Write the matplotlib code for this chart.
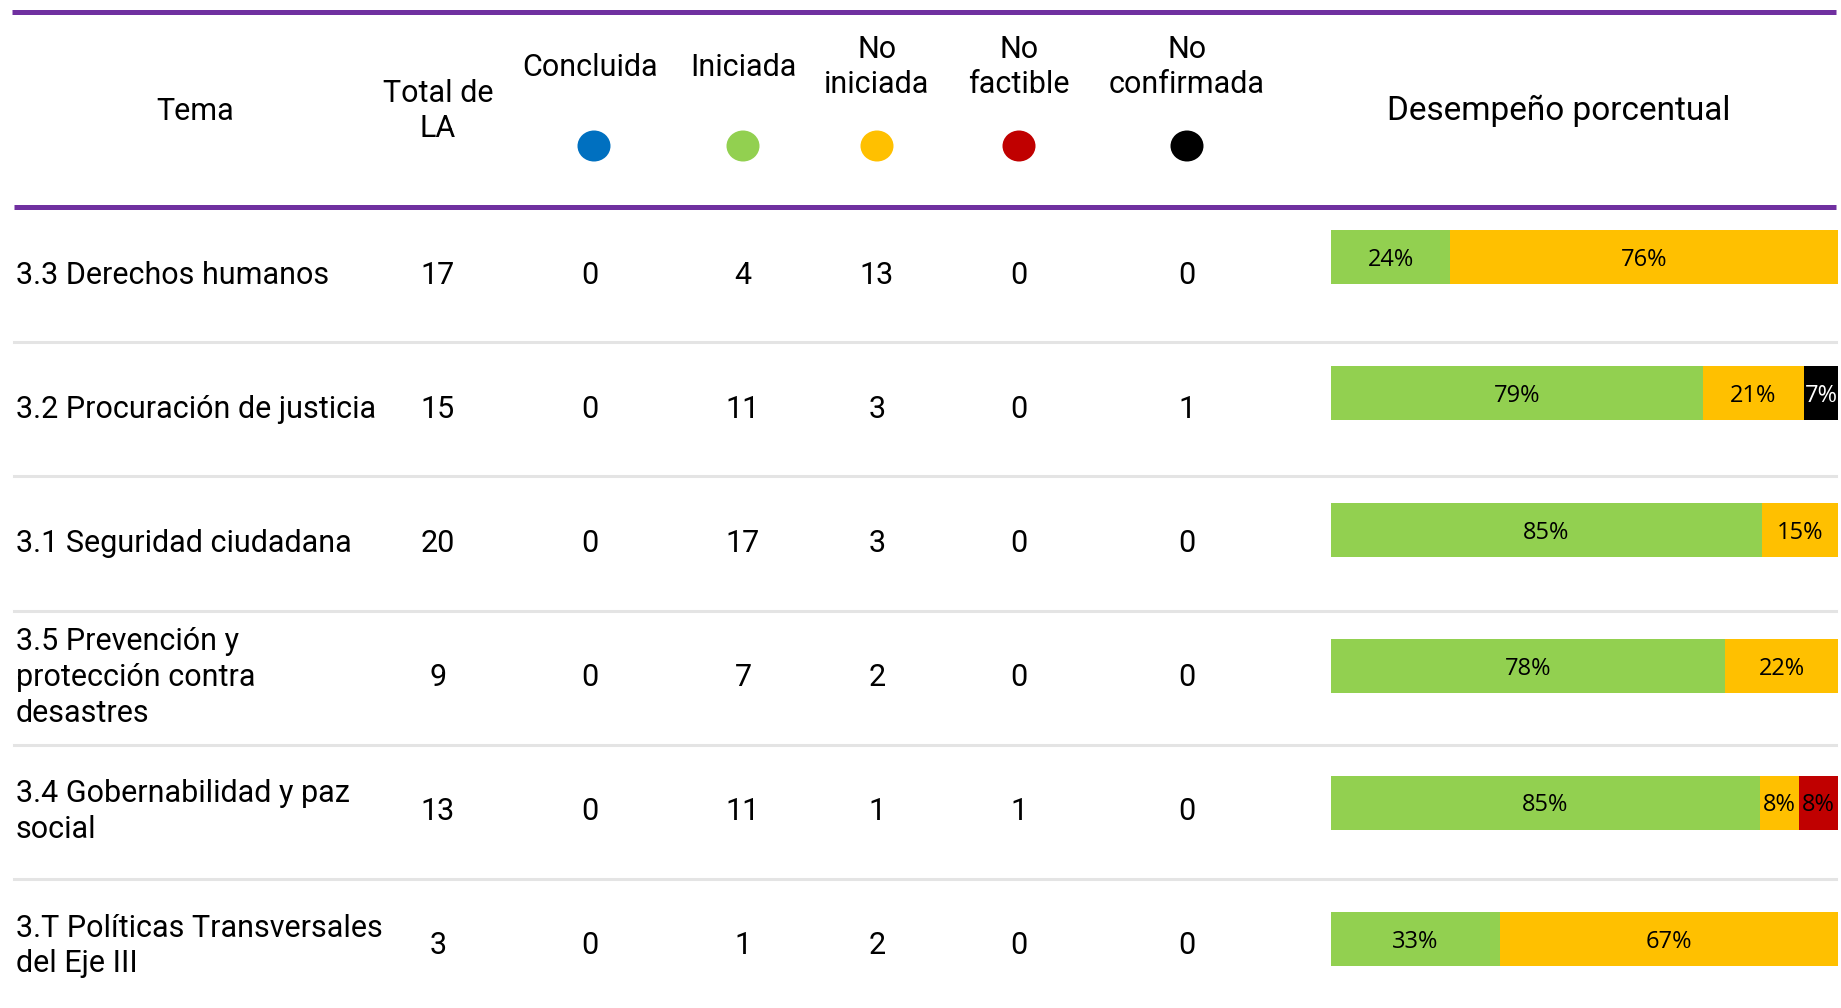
import matplotlib
matplotlib.use('Agg')
import matplotlib.pyplot as plt
from matplotlib.patches import Ellipse
import numpy as np

PURPLE = '#7030A0'
GRID = '#E4E4E4'
BLUE = '#0070C0'
GREEN = '#92D050'
YELLOW = '#FFC000'
RED = '#C00000'
BLACK = '#000000'

# data
temas = ['3.3 Derechos humanos', '3.2 Procuración de justicia', '3.1 Seguridad ciudadana',
         '3.5 Prevención y\nprotección contra\ndesastres', '3.4 Gobernabilidad y paz\nsocial',
         '3.T Políticas Transversales\ndel Eje III']
total_la = [17, 15, 20, 9, 13, 3]
concluida = [0, 0, 0, 0, 0, 0]
iniciada = [4, 11, 17, 7, 11, 1]
no_iniciada = [13, 3, 3, 2, 1, 2]
no_factible = [0, 0, 0, 0, 1, 0]
no_confirmada = [0, 1, 0, 0, 0, 0]

lbl_concluida = ['', '', '', '', '', '']
lbl_iniciada = ['24%', '79%', '85%', '78%', '85%', '33%']
lbl_no_iniciada = ['76%', '21%', '15%', '22%', '8%', '67%']
lbl_no_factible = ['', '', '', '', '8%', '']
lbl_no_confirmada = ['', '7%', '', '', '', '']

TFONT = ['Roboto', 'DejaVu Sans']
TW = 'normal'
TC = '#000000'
BFONT = ['Open Sans', 'DejaVu Sans']
LS = 1.3

W, H = 1841, 1008
fig = plt.figure(figsize=(W / 100, H / 100), dpi=100)
fig.patch.set_facecolor('white')
ax = fig.add_axes([0, 0, 1, 1])
ax.set_xlim(0, W)
ax.set_ylim(H, 0)
ax.axis('off')

# header
ax.plot([12, 1836], [12, 12], color=PURPLE, lw=3.6, solid_capstyle='butt')
ax.plot([14, 1836], [207, 207], color=PURPLE, lw=3.6, solid_capstyle='butt')

hs = 22
txt = dict(fontsize=hs, family=TFONT, weight=TW, color=TC, linespacing=LS)
ax.text(195, 111, 'Tema', ha='center', va='center', **txt)
ax.text(438, 111, 'Total de\nLA', ha='center', va='center', **txt)
status_x = [590, 743, 877, 1019, 1187]
status_names = ['Concluida', 'Iniciada', 'No\niniciada', 'No\nfactible', 'No\nconfirmada']
status_colors = [BLUE, GREEN, YELLOW, RED, BLACK]
for x, name, c in zip(status_x, status_names, status_colors):
    ax.text(x, 67, name, ha='center', va='center', **txt)
    ax.add_patch(Ellipse((x + 4 if c == BLUE else x, 146), 33, 31, facecolor=c, edgecolor='none'))
ax.text(1559, 111, 'Desempeño porcentual', fontsize=24, family=TFONT, color=TC,
        ha='center', va='center')

# rows
row_y0, row_dy = 275, 134.2
cols = [total_la, concluida, iniciada, no_iniciada, no_factible, no_confirmada]
col_x = [438] + status_x
for i, tema in enumerate(temas):
    y = row_y0 + i * row_dy
    ax.text(16, y, tema, ha='left', va='center', **txt)
    for x, vals in zip(col_x, cols):
        ax.text(x, y, str(vals[i]), ha='center', va='center', **txt)
    if i < len(temas) - 1:
        ys = y + row_dy / 2
        ax.plot([14, 1836], [ys, ys], color=GRID, lw=2.2)

# stacked bars
bax = fig.add_axes([1331 / W, (H - 1007.2) / H, 507 / W, 818.4 / H])
bax.set_xlim(0, 100)
bax.set_ylim(len(temas) - 0.5, -0.5)
bax.axis('off')

ypos = np.arange(len(temas))
tot = np.array(total_la, dtype=float)
series = [concluida, iniciada, no_iniciada, no_factible, no_confirmada]
labels = [lbl_concluida, lbl_iniciada, lbl_no_iniciada, lbl_no_factible, lbl_no_confirmada]
left = np.zeros(len(temas))
for vals, lbls, c in zip(series, labels, status_colors):
    w = np.array(vals) / tot * 100
    bars = bax.barh(ypos, w, left=left, height=0.396, color=c, edgecolor='none')
    tc = 'white' if c == BLACK else 'black'
    for b, lb, wi in zip(bars, lbls, w):
        if wi > 0 and lb:
            bax.text(b.get_x() + b.get_width() / 2, b.get_y() + b.get_height() / 2 + 0.02, lb,
                     fontsize=17, family=BFONT, color=tc, ha='center', va='center')
    left += w

plt.savefig('out.png', dpi=100, facecolor='white')
